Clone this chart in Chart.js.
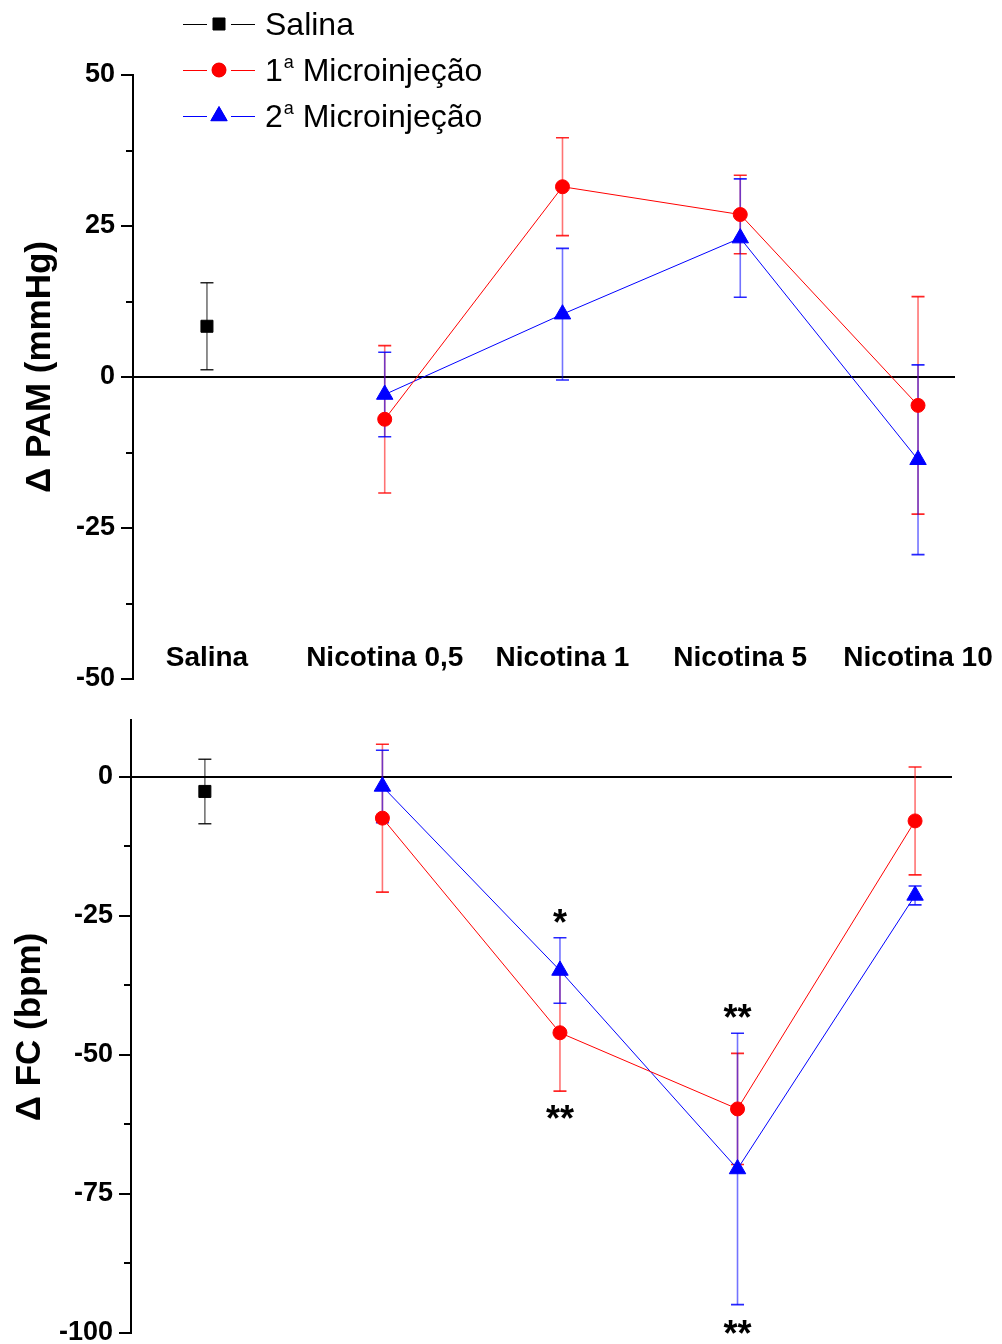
<!DOCTYPE html>
<html>
<head>
<meta charset="utf-8">
<script src="https://cdn.jsdelivr.net/npm/chart.js@4.4.0/dist/chart.umd.min.js"></script>
<style>
  html, body { margin: 0; padding: 0; background: #fff; overflow: hidden; width: 1002px; height: 1344px; }
  #topo { position: absolute; left: 0; top: 0; }
  #baixo { position: absolute; left: -2px; top: 700px; }
</style>
</head>
<body>
<div id="topo"><canvas id="graficaPAM" width="1002" height="700"></canvas></div>
<div id="baixo"><canvas id="graficaFC" width="1002" height="670"></canvas></div>
<script>
// Categorias do eixo x
const categorias = ['Salina', 'Nicotina 0,5', 'Nicotina 1', 'Nicotina 5', 'Nicotina 10'];

// Δ PAM (mmHg)
const pamSalina = [8.4, null, null, null, null];
const pamSalinaErro = [7.2, null, null, null, null];
const pam1 = [null, -7.0, 31.5, 26.9, -4.7];
const pam1Erro = [null, 12.2, 8.1, 6.5, 18.0];
const pam2 = [null, -2.9, 10.4, 23.0, -13.7];
const pam2Erro = [null, 7.0, 10.9, 9.8, 15.7];

// Δ FC (bpm)
const fcSalina = [-2.6, null, null, null, null];
const fcSalinaErro = [5.8, null, null, null, null];
const fc1 = [null, -7.4, -46.0, -59.7, -7.9];
const fc1Erro = [null, 13.3, 10.5, 10.0, 9.7];
const fc2 = [null, -1.7, -34.8, -70.5, -21.3];
const fc2Erro = [null, 6.5, 5.9, 24.4, 1.7];

// Ticks do eixo y
const ticksPAM = [50, 25, 0, -25, -50];
const ticksFC = [0, -25, -50, -75, -100];

// Asteriscos de significância (FC)
const asteriscos = [
  { cat: 2, valor: -24.8, texto: '*' },
  { cat: 2, valor: -59.9, texto: '**' },
  { cat: 3, valor: -41.9, texto: '**' },
  { cat: 3, valor: -98.6, texto: '**' }
];

const FONTE = 'Arial, "Liberation Sans", sans-serif';

function pontos(valores) {
  return valores.map((v, i) => v === null ? null : { x: i, y: v }).filter(p => p);
}
function erros(valores) {
  return valores.filter(v => v !== null);
}

function seriesDe(sal, salErr, s1, s1Err, s2, s2Err) {
  return [
    {
      label: 'Salina', data: pontos(sal), erros: erros(salErr),
      borderColor: '#000', backgroundColor: '#000', pointStyle: 'rect', pointRadius: 8.5,
      corErro: 'rgba(0,0,0,0.55)', corCap: 'rgba(0,0,0,0.85)', borderWidth: 1
    },
    {
      label: '1ª Microinjeção', data: pontos(s1), erros: erros(s1Err),
      borderColor: '#ff0000', backgroundColor: '#ff0000', pointStyle: 'circle', pointRadius: 7,
      corErro: 'rgba(255,0,0,0.55)', corCap: 'rgba(255,0,0,0.85)', borderWidth: 1
    },
    {
      label: '2ª Microinjeção', data: pontos(s2), erros: erros(s2Err),
      borderColor: '#0000ff', backgroundColor: '#0000ff', pointStyle: 'triangle', pointRadius: 9.5,
      corErro: 'rgba(0,0,255,0.55)', corCap: 'rgba(0,0,255,0.85)', borderWidth: 1
    }
  ];
}

// Barras de erro desenhadas a partir das escalas do gráfico
const pluginErros = {
  id: 'barrasErro',
  beforeDatasetsDraw(chart) {
    const ctx = chart.ctx;
    const ys = chart.scales.y;
    chart.data.datasets.forEach((ds, i) => {
      const meta = chart.getDatasetMeta(i);
      meta.data.forEach((pt, j) => {
        const v = ds.data[j].y, e = ds.erros[j];
        const x = pt.x;
        const yt = ys.getPixelForValue(v + e), yb = ys.getPixelForValue(v - e);
        ctx.save();
        ctx.lineWidth = 1.6;
        ctx.strokeStyle = ds.corErro;
        ctx.beginPath(); ctx.moveTo(x, yt); ctx.lineTo(x, yb); ctx.stroke();
        ctx.strokeStyle = ds.corCap;
        ctx.beginPath();
        ctx.moveTo(x - 6.5, yt); ctx.lineTo(x + 6.5, yt);
        ctx.moveTo(x - 6.5, yb); ctx.lineTo(x + 6.5, yb);
        ctx.stroke();
        ctx.restore();
      });
    });
  }
};

// Marcas do eixo y (maiores e menores) e título do eixo
const pluginMarcas = {
  id: 'marcasY',
  afterDraw(chart, args, opts) {
    const ctx = chart.ctx, ys = chart.scales.y;
    const x0 = chart.chartArea.left;
    ctx.save();
    ctx.strokeStyle = '#000';
    ctx.lineWidth = 2;
    for (let v = Math.ceil(ys.min / 12.5) * 12.5; v <= ys.max; v += 12.5) {
      const y = Math.round(ys.getPixelForValue(v));
      const len = (v % 25 === 0) ? 12 : 7;
      ctx.beginPath(); ctx.moveTo(x0 - len, y); ctx.lineTo(x0, y); ctx.stroke();
    }
    // título rotacionado
    ctx.translate(opts.tituloX, opts.tituloY);
    ctx.rotate(-Math.PI / 2);
    ctx.fillStyle = '#000';
    ctx.font = 'bold 35px ' + FONTE;
    ctx.textAlign = 'center';
    ctx.textBaseline = 'middle';
    ctx.fillText(opts.titulo, 0, 0);
    ctx.restore();
  }
};

function opcoes(min, max, ticksLabel, titulo, tx, ty) {
  return {
    responsive: false,
    animation: false,
    layout: { padding: { left: 0, right: 47, top: 0, bottom: 0 } },
    plugins: {
      legend: { display: false }, tooltip: { enabled: false },
      marcasY: { titulo: titulo, tituloX: tx, tituloY: ty }
    },
    scales: {
      x: { type: 'linear', min: -0.416, max: 4.208, display: false },
      y: {
        min: min, max: max,
        afterFit(s) { s.width = 133; },
        ticks: {
          stepSize: 12.5, padding: 0, color: '#000',
          font: { family: FONTE, size: 27, weight: 'bold' },
          callback: v => ticksLabel.includes(v) ? String(v) : ''
        },
        grid: {
          drawTicks: true, tickLength: 18, tickColor: 'rgba(0,0,0,0)',
          color: c => (c.tick && c.tick.value === 0) ? '#000' : 'rgba(0,0,0,0)',
          lineWidth: c => (c.tick && c.tick.value === 0) ? 2 : 1
        },
        border: { display: true, color: '#000', width: 2 }
      }
    }
  };
}

// ---- Gráfico superior: Δ PAM ----
const pluginTopo = {
  id: 'extrasTopo',
  afterDraw(chart) {
    const ctx = chart.ctx, xs = chart.scales.x;
    ctx.save();
    // rótulos das categorias
    ctx.fillStyle = '#000';
    ctx.font = 'bold 28px ' + FONTE;
    ctx.textAlign = 'center';
    ctx.textBaseline = 'middle';
    categorias.forEach((c, i) => ctx.fillText(c, xs.getPixelForValue(i), 658));
    // legenda
    const itens = [
      { ds: chart.data.datasets[0], num: '', resto: 'Salina', y: 24 },
      { ds: chart.data.datasets[1], num: '1', resto: ' Microinjeção', y: 70 },
      { ds: chart.data.datasets[2], num: '2', resto: ' Microinjeção', y: 116 }
    ];
    itens.forEach(it => {
      ctx.strokeStyle = it.ds.borderColor;
      ctx.lineWidth = 1;
      ctx.beginPath();
      ctx.moveTo(183, it.y + 0.5); ctx.lineTo(207, it.y + 0.5);
      ctx.moveTo(231, it.y + 0.5); ctx.lineTo(255, it.y + 0.5);
      ctx.stroke();
      Chart.helpers.drawPoint(ctx, {
        pointStyle: it.ds.pointStyle, radius: it.ds.pointRadius, rotation: 0, borderWidth: 1
      }, 219, it.y);
      ctx.fillStyle = it.ds.backgroundColor;
      ctx.fill();
      ctx.fillStyle = '#000';
      ctx.textAlign = 'left';
      ctx.textBaseline = 'alphabetic';
      let x = 265;
      const base = it.y + 11;
      ctx.font = '32px ' + FONTE;
      if (it.num) {
        ctx.fillText(it.num, x, base);
        x += ctx.measureText(it.num).width + 1;
        ctx.font = '18px ' + FONTE;
        ctx.fillText('a', x, base - 13);
        x += ctx.measureText('a').width;
        ctx.font = '32px ' + FONTE;
      }
      ctx.fillText(it.resto, x, base);
    });
    ctx.restore();
  }
};

const cfgTopo = opcoes(-50, 50, ticksPAM, 'Δ PAM (mmHg)', 40, 367);
cfgTopo.layout.padding.top = 75;
cfgTopo.layout.padding.bottom = 21;
new Chart(document.getElementById('graficaPAM').getContext('2d'), {
  type: 'line',
  data: { datasets: seriesDe(pamSalina, pamSalinaErro, pam1, pam1Erro, pam2, pam2Erro) },
  options: cfgTopo,
  plugins: [pluginErros, pluginMarcas, pluginTopo]
});

// ---- Gráfico inferior: Δ FC ----
const pluginAsteriscos = {
  id: 'asteriscos',
  afterDraw(chart) {
    const ctx = chart.ctx, xs = chart.scales.x, ys = chart.scales.y;
    ctx.save();
    ctx.fillStyle = '#000';
    ctx.font = 'bold 36px ' + FONTE;
    ctx.textAlign = 'center';
    ctx.textBaseline = 'alphabetic';
    asteriscos.forEach(a => {
      ctx.fillText(a.texto, xs.getPixelForValue(a.cat), ys.getPixelForValue(a.valor) + 0.57 * 36);
    });
    ctx.restore();
  }
};

const cfgBaixo = opcoes(-100, 10.25, ticksFC, 'Δ FC (bpm)', 32, 327);
cfgBaixo.layout.padding.top = 20;
cfgBaixo.layout.padding.bottom = 37;
cfgBaixo.layout.padding.right = 48;
new Chart(document.getElementById('graficaFC').getContext('2d'), {
  type: 'line',
  data: { datasets: seriesDe(fcSalina, fcSalinaErro, fc1, fc1Erro, fc2, fc2Erro) },
  options: cfgBaixo,
  plugins: [pluginErros, pluginMarcas, pluginAsteriscos]
});
</script>
</body>
</html>
